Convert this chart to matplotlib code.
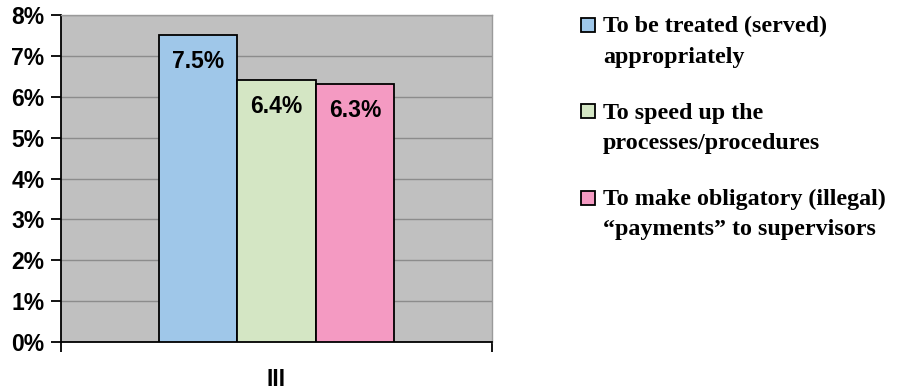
import matplotlib
matplotlib.use("Agg")
import matplotlib.pyplot as plt
from matplotlib.patches import Rectangle
from matplotlib.ticker import FuncFormatter

# Data
category = "III"
series_labels = [
    ["To be treated (served)", "appropriately"],
    ["To speed up the", "processes/procedures"],
    ["To make obligatory (illegal)", "\u201cpayments\u201d to supervisors"],
]
values = [7.5, 6.4, 6.3]
colors = ["#9fc7e9", "#d4e6c4", "#f49ac2"]
y_ticks = [0, 1, 2, 3, 4, 5, 6, 7, 8]

W, H, DPI = 899, 392, 100
fig = plt.figure(figsize=(W / DPI, H / DPI), dpi=DPI)
fig.patch.set_facecolor("white")

# plot area in pixels: left 61, right 492, top 15, bottom 342
ax = fig.add_axes([61 / W, (H - 342) / H, (492 - 61) / W, (342 - 15) / H])
ax.set_facecolor("#c0c0c0")

bar_w = 0.1817
offsets = [-bar_w, 0.0, bar_w]
for off, v, c in zip(offsets, values, colors):
    ax.bar(off, v, width=bar_w, color=c, edgecolor="black", linewidth=1.3, zorder=3)
    ax.annotate(f"{v:.1f}%", xy=(off, v), xytext=(0, -19), textcoords="offset points",
                ha="center", va="center", fontsize=16.5, fontweight="bold",
                family="Liberation Sans", zorder=4)

ax.set_xlim(-0.5, 0.5)
ax.set_ylim(0, 8)
ax.set_yticks(y_ticks)
ax.yaxis.set_major_formatter(FuncFormatter(lambda v, p: f"{v:.0f}%"))
ax.grid(axis="y", color="#8c8c8c", linewidth=1.0, zorder=1)
ax.set_axisbelow(True)

# category label and boundary ticks
ax.set_xticks([0])
ax.set_xticklabels([category])
ax.set_xticks([-0.5, 0.5], minor=True)
ax.tick_params(axis="x", which="major", length=0, pad=18.5)
ax.tick_params(axis="x", which="minor", length=7, width=1.3, direction="out", color="black")
ax.tick_params(axis="y", length=7, width=1.3, direction="out", pad=5)
for lab in ax.get_xticklabels() + ax.get_yticklabels():
    lab.set_fontsize(16.5)
    lab.set_fontweight("bold")
    lab.set_family("Liberation Sans")

for s in ["left", "bottom"]:
    ax.spines[s].set_color("black")
    ax.spines[s].set_linewidth(1.3)
for s in ["top", "right"]:
    ax.spines[s].set_color("#9a9a9a")
    ax.spines[s].set_linewidth(1.0)

# legend drawn in figure pixel coordinates
line_centres = [(25, 55), (111, 142), (198, 228)]  # pixels from top
for lines, c, (y1, y2) in zip(series_labels, colors, line_centres):
    sq = 14
    fig.add_artist(Rectangle((581 / W, (H - y1 - sq / 2) / H), sq / W, sq / H,
                             facecolor=c, edgecolor="black", linewidth=1.3,
                             transform=fig.transFigure))
    for txt, yc in zip(lines, (y1, y2)):
        fig.text(603 / W, (H - yc - 7.5) / H, txt, ha="left", va="baseline",
                 fontsize=17.3, fontweight="bold", family="Liberation Serif")

fig.savefig("out.png", dpi=DPI)
